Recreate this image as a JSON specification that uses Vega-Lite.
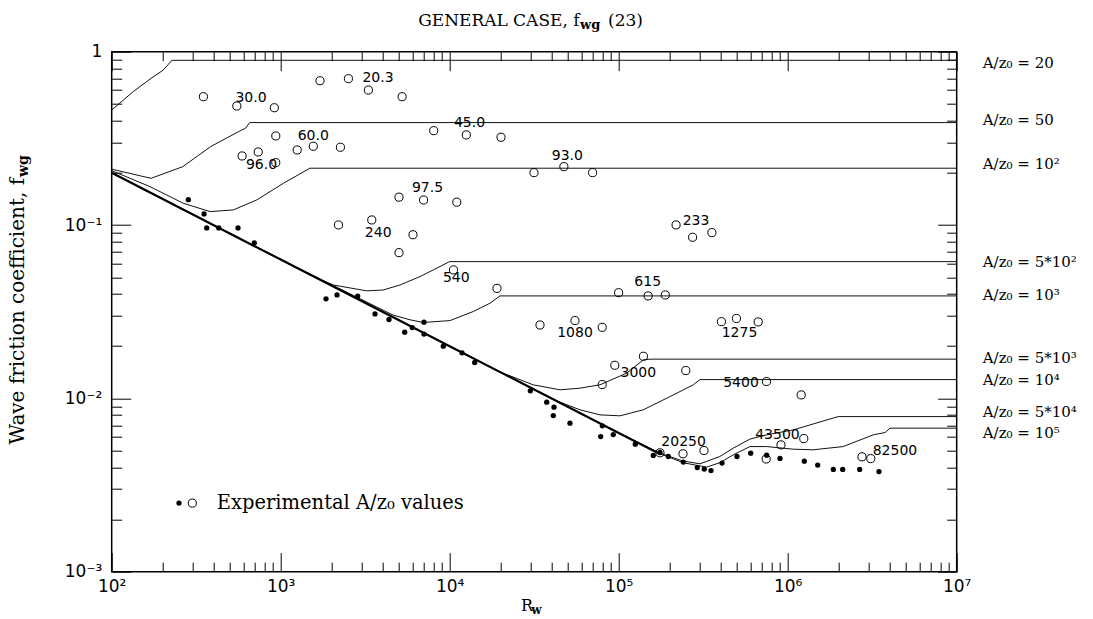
{
  "$schema": "https://vega.github.io/schema/vega-lite/v6.json",
  "width": 845,
  "height": 520,
  "autosize": {"type": "none"},
  "padding": {"left": 111.7, "top": 51.7, "right": 136, "bottom": 47},
  "background": "white",
  "config": {
    "view": {"stroke": "#000", "strokeWidth": 1.5},
    "axis": {"grid": false, "domain": false, "title": null, "tickColor": "#000", "labelColor": "#000", "labelFlush": false, "labelOverlap": false, "labelBound": false}
  },
  "resolve": {"axis": {"x": "independent", "y": "independent"}},
  "datasets": {
    "curves": [
      {"c": "20", "R": 100, "f": 0.461}, {"c": "20", "R": 134, "f": 0.588}, {"c": "20", "R": 171, "f": 0.702}, {"c": "20", "R": 202, "f": 0.784}, {"c": "20", "R": 227, "f": 0.892}, {"c": "20", "R": 10000000, "f": 0.892},
      {"c": "50", "R": 100, "f": 0.21}, {"c": "50", "R": 171, "f": 0.186}, {"c": "50", "R": 263, "f": 0.217}, {"c": "50", "R": 384, "f": 0.283}, {"c": "50", "R": 564, "f": 0.346}, {"c": "50", "R": 619, "f": 0.362}, {"c": "50", "R": 656, "f": 0.39}, {"c": "50", "R": 10000000, "f": 0.39},
      {"c": "100", "R": 100, "f": 0.206}, {"c": "100", "R": 168.5, "f": 0.1665}, {"c": "100", "R": 265, "f": 0.1336}, {"c": "100", "R": 382, "f": 0.1195}, {"c": "100", "R": 524, "f": 0.1222}, {"c": "100", "R": 721, "f": 0.1395}, {"c": "100", "R": 1036, "f": 0.174}, {"c": "100", "R": 1489, "f": 0.2127}, {"c": "100", "R": 10000000, "f": 0.2127},
      {"c": "500", "R": 100, "f": 0.2}, {"c": "500", "R": 1000, "f": 0.0632}, {"c": "500", "R": 1633, "f": 0.0493}, {"c": "500", "R": 2048, "f": 0.0451}, {"c": "500", "R": 3228, "f": 0.0417}, {"c": "500", "R": 4047, "f": 0.0422}, {"c": "500", "R": 5079, "f": 0.0451}, {"c": "500", "R": 6673, "f": 0.0504}, {"c": "500", "R": 7998, "f": 0.0551}, {"c": "500", "R": 9811, "f": 0.061}, {"c": "500", "R": 10040, "f": 0.0615}, {"c": "500", "R": 10000000, "f": 0.0615},
      {"c": "1000", "R": 100, "f": 0.2}, {"c": "1000", "R": 1000, "f": 0.0632}, {"c": "1000", "R": 4638, "f": 0.0302}, {"c": "1000", "R": 5823, "f": 0.0284}, {"c": "1000", "R": 6980, "f": 0.0274}, {"c": "1000", "R": 10040, "f": 0.0281}, {"c": "1000", "R": 13790, "f": 0.0317}, {"c": "1000", "R": 17320, "f": 0.0354}, {"c": "1000", "R": 19840, "f": 0.039}, {"c": "1000", "R": 10000000, "f": 0.039},
      {"c": "5000", "R": 100, "f": 0.2}, {"c": "5000", "R": 10000, "f": 0.02}, {"c": "5000", "R": 19840, "f": 0.0142}, {"c": "5000", "R": 31230, "f": 0.01197}, {"c": "5000", "R": 44950, "f": 0.0112}, {"c": "5000", "R": 59030, "f": 0.01145}, {"c": "5000", "R": 77520, "f": 0.01197}, {"c": "5000", "R": 111500, "f": 0.01398}, {"c": "5000", "R": 139800, "f": 0.01667}, {"c": "5000", "R": 153200, "f": 0.01683}, {"c": "5000", "R": 10000000, "f": 0.01683},
      {"c": "10000", "R": 100, "f": 0.2}, {"c": "10000", "R": 10000, "f": 0.02}, {"c": "10000", "R": 34220, "f": 0.0108}, {"c": "10000", "R": 44950, "f": 0.0095}, {"c": "10000", "R": 59030, "f": 0.00859}, {"c": "10000", "R": 77520, "f": 0.00803}, {"c": "10000", "R": 101800, "f": 0.00793}, {"c": "10000", "R": 139800, "f": 0.00859}, {"c": "10000", "R": 201200, "f": 0.01024}, {"c": "10000", "R": 276300, "f": 0.01197}, {"c": "10000", "R": 302700, "f": 0.01283}, {"c": "10000", "R": 10000000, "f": 0.01283},
      {"c": "50000", "R": 100, "f": 0.2}, {"c": "50000", "R": 100000, "f": 0.00632}, {"c": "50000", "R": 175500, "f": 0.00483}, {"c": "50000", "R": 240000, "f": 0.00435}, {"c": "50000", "R": 302700, "f": 0.00419}, {"c": "50000", "R": 397000, "f": 0.00462}, {"c": "50000", "R": 476000, "f": 0.00516}, {"c": "50000", "R": 598000, "f": 0.00582}, {"c": "50000", "R": 751000, "f": 0.00616}, {"c": "50000", "R": 1080000, "f": 0.00658}, {"c": "50000", "R": 1990000, "f": 0.00785}, {"c": "50000", "R": 10000000, "f": 0.00785},
      {"c": "100000", "R": 100, "f": 0.2}, {"c": "100000", "R": 100000, "f": 0.00632}, {"c": "100000", "R": 175500, "f": 0.0048}, {"c": "100000", "R": 241000, "f": 0.00425}, {"c": "100000", "R": 331700, "f": 0.00401}, {"c": "100000", "R": 398000, "f": 0.00426}, {"c": "100000", "R": 476000, "f": 0.00472}, {"c": "100000", "R": 598000, "f": 0.00527}, {"c": "100000", "R": 751000, "f": 0.00527}, {"c": "100000", "R": 1080000, "f": 0.00509}, {"c": "100000", "R": 1416000, "f": 0.00505}, {"c": "100000", "R": 2130000, "f": 0.00527}, {"c": "100000", "R": 3210000, "f": 0.00616}, {"c": "100000", "R": 3770000, "f": 0.00635}, {"c": "100000", "R": 4030000, "f": 0.00673}, {"c": "100000", "R": 10000000, "f": 0.00673}
    ],
    "thick": [
      {"R": 100, "f": 0.2}, {"R": 1000, "f": 0.0632}, {"R": 10000, "f": 0.02}, {"R": 100000, "f": 0.00632}, {"R": 175500, "f": 0.00478}
    ],
    "dots": [
      {"R": 284, "f": 0.14}, {"R": 352, "f": 0.1159}, {"R": 365, "f": 0.0962}, {"R": 430, "f": 0.0962}, {"R": 559, "f": 0.0962}, {"R": 698, "f": 0.0788},
      {"R": 1854, "f": 0.0375}, {"R": 2154, "f": 0.0395}, {"R": 2855, "f": 0.0389}, {"R": 3614, "f": 0.0307}, {"R": 4374, "f": 0.0285}, {"R": 5416, "f": 0.0241}, {"R": 6006, "f": 0.0256}, {"R": 7046, "f": 0.0275}, {"R": 7046, "f": 0.0235}, {"R": 9165, "f": 0.02}, {"R": 11825, "f": 0.0183}, {"R": 14058, "f": 0.0161},
      {"R": 29997, "f": 0.01105}, {"R": 37500, "f": 0.00951}, {"R": 41420, "f": 0.0089}, {"R": 41030, "f": 0.00796}, {"R": 51500, "f": 0.00719}, {"R": 80000, "f": 0.00694}, {"R": 78250, "f": 0.00602}, {"R": 92900, "f": 0.00618},
      {"R": 125400, "f": 0.00544}, {"R": 160200, "f": 0.00468}, {"R": 175500, "f": 0.00487}, {"R": 196600, "f": 0.00462}, {"R": 241200, "f": 0.00429}, {"R": 291900, "f": 0.00399}, {"R": 321000, "f": 0.00391}, {"R": 351800, "f": 0.00383}, {"R": 408700, "f": 0.00423}, {"R": 501200, "f": 0.00462}, {"R": 604000, "f": 0.00483}, {"R": 751000, "f": 0.0047}, {"R": 900300, "f": 0.0045},
      {"R": 1254000, "f": 0.00434}, {"R": 1505000, "f": 0.00412}, {"R": 1862000, "f": 0.00389}, {"R": 2116000, "f": 0.00389}, {"R": 2667000, "f": 0.00389}, {"R": 3469000, "f": 0.00378}
    ],
    "circles": [
      {"R": 349, "f": 0.55}, {"R": 550, "f": 0.486}, {"R": 917, "f": 0.475}, {"R": 1708, "f": 0.68}, {"R": 2516, "f": 0.699}, {"R": 3303, "f": 0.601}, {"R": 5227, "f": 0.55},
      {"R": 935, "f": 0.3265}, {"R": 591, "f": 0.2503}, {"R": 736, "f": 0.264}, {"R": 935, "f": 0.229}, {"R": 1252, "f": 0.271}, {"R": 1559, "f": 0.2848}, {"R": 2256, "f": 0.281},
      {"R": 8042, "f": 0.3503}, {"R": 12540, "f": 0.331}, {"R": 20120, "f": 0.3209},
      {"R": 31530, "f": 0.2006}, {"R": 47390, "f": 0.2172}, {"R": 70080, "f": 0.2006},
      {"R": 5012, "f": 0.1448}, {"R": 7009, "f": 0.1395}, {"R": 11020, "f": 0.1354},
      {"R": 2198, "f": 0.1001}, {"R": 3459, "f": 0.107}, {"R": 6063, "f": 0.0879}, {"R": 5012, "f": 0.0693},
      {"R": 10530, "f": 0.0551}, {"R": 19050, "f": 0.0431},
      {"R": 218600, "f": 0.1001}, {"R": 273700, "f": 0.085}, {"R": 356100, "f": 0.0904},
      {"R": 99860, "f": 0.0407}, {"R": 149300, "f": 0.039}, {"R": 188700, "f": 0.0395},
      {"R": 34220, "f": 0.0265}, {"R": 55130, "f": 0.0281}, {"R": 79880, "f": 0.0257},
      {"R": 405400, "f": 0.0277}, {"R": 497800, "f": 0.0289}, {"R": 669000, "f": 0.0276},
      {"R": 140100, "f": 0.01749}, {"R": 94820, "f": 0.01552}, {"R": 79880, "f": 0.01201}, {"R": 249500, "f": 0.01447},
      {"R": 749100, "f": 0.0125}, {"R": 1202000, "f": 0.01047},
      {"R": 175500, "f": 0.00485}, {"R": 240200, "f": 0.00479}, {"R": 319700, "f": 0.005},
      {"R": 912800, "f": 0.00539}, {"R": 1245000, "f": 0.00586}, {"R": 746100, "f": 0.00447},
      {"R": 2752000, "f": 0.0046}, {"R": 3102000, "f": 0.00449}
    ],
    "numlabels": [
      {"t": "30.0", "R": 667, "f": 0.543}, {"t": "20.3", "R": 3765, "f": 0.708}, {"t": "60.0", "R": 1559, "f": 0.3265}, {"t": "96.0", "R": 770, "f": 0.223},
      {"t": "45.0", "R": 13100, "f": 0.3865}, {"t": "93.0", "R": 49710, "f": 0.2513}, {"t": "97.5", "R": 7390, "f": 0.163}, {"t": "240", "R": 3775, "f": 0.0897},
      {"t": "540", "R": 10940, "f": 0.0493}, {"t": "233", "R": 286700, "f": 0.106}, {"t": "615", "R": 148500, "f": 0.0468}, {"t": "1080", "R": 55130, "f": 0.0237},
      {"t": "1275", "R": 518500, "f": 0.0237}, {"t": "3000", "R": 130600, "f": 0.01398}, {"t": "5400", "R": 529200, "f": 0.01229}, {"t": "20250", "R": 242100, "f": 0.00563},
      {"t": "43500", "R": 869900, "f": 0.00616}, {"t": "82500", "R": 4313000, "f": 0.00496}
    ],
    "rightlabels": [
      {"t": "A/z₀  =  20", "R": 14270000, "f": 0.861},
      {"t": "A/z₀  =  50", "R": 14270000, "f": 0.4037},
      {"t": "A/z₀  =  10²", "R": 14270000, "f": 0.2236},
      {"t": "A/z₀  =  5*10²", "R": 14270000, "f": 0.0615},
      {"t": "A/z₀  =  10³", "R": 14270000, "f": 0.0393},
      {"t": "A/z₀  =  5*10³", "R": 14270000, "f": 0.0172},
      {"t": "A/z₀  =  10⁴", "R": 14270000, "f": 0.01268},
      {"t": "A/z₀  =  5*10⁴", "R": 14270000, "f": 0.00836},
      {"t": "A/z₀  =  10⁵", "R": 14270000, "f": 0.00632}
    ],
    "legdot": [{"R": 250.2, "f": 0.002487}],
    "legcircle": [{"R": 300, "f": 0.002487}],
    "legtext": [{"t": "Experimental A/z₀ values", "R": 418.8, "f": 0.002487}],
    "titlemain": [{"t": "GENERAL CASE, f", "R": 58630, "f": 1.406}],
    "titlesub": [{"t": "wg", "R": 59060, "f": 1.352}],
    "titleend": [{"t": "(23)", "R": 86460, "f": 1.406}],
    "ytitle": [{"t": "Wave friction coefficient, f", "R": 30.28, "f": 0.1869}],
    "ytitlesub": [{"t": "wg", "R": 31.76, "f": 0.1894}],
    "xtitle": [{"t": "R", "R": 28670, "f": 0.000595}],
    "xtitlesub": [{"t": "w", "R": 30340, "f": 0.0005716}]
  },
  "layer": [
    {
      "data": {"name": "curves"},
      "mark": {"type": "line", "color": "#111", "strokeWidth": 1},
      "encoding": {
        "x": {"field": "R", "type": "quantitative", "scale": {"type": "log", "domain": [100, 10000000], "nice": false},
          "axis": {"orient": "bottom", "values": [100, 1000, 10000, 100000, 1000000, 10000000], "ticks": false, "labelPadding": 7, "labelFont": "DejaVu Sans", "labelFontSize": 17, "labelExpr": "'10' + ['⁰','¹','²','³','⁴','⁵','⁶','⁷'][round(log(datum.value)/LN10)]"}},
        "y": {"field": "f", "type": "quantitative", "scale": {"type": "log", "domain": [0.001, 1], "nice": false},
          "axis": {"orient": "left", "values": [0.001, 0.01, 0.1, 1], "ticks": false, "labelPadding": 10, "labelFont": "DejaVu Sans", "labelFontSize": 17, "labelExpr": "datum.value >= 1 ? '1' : '10⁻' + ['⁰','¹','²','³'][round(-log(datum.value)/LN10)]"}},
        "detail": {"field": "c"}
      }
    },
    {
      "data": {"name": "thick"},
      "mark": {"type": "line", "color": "#000", "strokeWidth": 2.2},
      "encoding": {
        "x": {"field": "R", "type": "quantitative", "scale": {"type": "log", "domain": [100, 10000000], "nice": false},
          "axis": {"orient": "bottom", "values": [100, 1000, 10000, 100000, 1000000, 10000000], "labels": false, "tickSize": -19, "tickWidth": 1}},
        "y": {"field": "f", "type": "quantitative", "scale": {"type": "log", "domain": [0.001, 1], "nice": false},
          "axis": {"orient": "left", "values": [0.001, 0.01, 0.1, 1], "labels": false, "tickSize": -19, "tickWidth": 1}}
      }
    },
    {
      "data": {"name": "dots"},
      "mark": {"type": "point", "shape": "circle", "filled": true, "color": "#000", "size": 28, "opacity": 1},
      "encoding": {
        "x": {"field": "R", "type": "quantitative", "scale": {"type": "log", "domain": [100, 10000000], "nice": false},
          "axis": {"orient": "bottom", "values": [200,300,400,500,600,700,800,900,2000,3000,4000,5000,6000,7000,8000,9000,20000,30000,40000,50000,60000,70000,80000,90000,200000,300000,400000,500000,600000,700000,800000,900000,2000000,3000000,4000000,5000000,6000000,7000000,8000000,9000000], "labels": false, "tickSize": -9.5, "tickWidth": 1}},
        "y": {"field": "f", "type": "quantitative", "scale": {"type": "log", "domain": [0.001, 1], "nice": false},
          "axis": {"orient": "left", "values": [0.002,0.003,0.004,0.005,0.006,0.007,0.008,0.009,0.02,0.03,0.04,0.05,0.06,0.07,0.08,0.09,0.2,0.3,0.4,0.5,0.6,0.7,0.8,0.9], "labels": false, "tickSize": -10, "tickWidth": 1}}
      }
    },
    {
      "data": {"name": "circles"},
      "mark": {"type": "point", "shape": "circle", "filled": false, "color": "#000", "size": 66, "strokeWidth": 1, "opacity": 1},
      "encoding": {
        "x": {"field": "R", "type": "quantitative", "scale": {"type": "log", "domain": [100, 10000000], "nice": false},
          "axis": {"orient": "top", "values": [100, 1000, 10000, 100000, 1000000, 10000000], "labels": false, "tickSize": -19, "tickWidth": 1}},
        "y": {"field": "f", "type": "quantitative", "scale": {"type": "log", "domain": [0.001, 1], "nice": false},
          "axis": {"orient": "right", "values": [0.001, 0.01, 0.1, 1], "labels": false, "tickSize": -19, "tickWidth": 1}}
      }
    },
    {
      "data": {"name": "numlabels"},
      "mark": {"type": "text", "font": "DejaVu Sans", "fontSize": 14, "align": "center", "baseline": "middle", "color": "#000"},
      "encoding": {
        "x": {"field": "R", "type": "quantitative", "scale": {"type": "log", "domain": [100, 10000000], "nice": false},
          "axis": {"orient": "top", "values": [200,300,400,500,600,700,800,900,2000,3000,4000,5000,6000,7000,8000,9000,20000,30000,40000,50000,60000,70000,80000,90000,200000,300000,400000,500000,600000,700000,800000,900000,2000000,3000000,4000000,5000000,6000000,7000000,8000000,9000000], "labels": false, "tickSize": -9, "tickWidth": 1}},
        "y": {"field": "f", "type": "quantitative", "scale": {"type": "log", "domain": [0.001, 1], "nice": false},
          "axis": {"orient": "right", "values": [0.002,0.003,0.004,0.005,0.006,0.007,0.008,0.009,0.02,0.03,0.04,0.05,0.06,0.07,0.08,0.09,0.2,0.3,0.4,0.5,0.6,0.7,0.8,0.9], "labels": false, "tickSize": -10, "tickWidth": 1}},
        "text": {"field": "t"}
      }
    },
    {
      "data": {"name": "rightlabels"},
      "mark": {"type": "text", "font": "DejaVu Serif", "fontSize": 15, "align": "left", "baseline": "middle", "color": "#000"},
      "encoding": {
        "x": {"field": "R", "type": "quantitative", "scale": {"type": "log", "domain": [100, 10000000], "nice": false}, "axis": null},
        "y": {"field": "f", "type": "quantitative", "scale": {"type": "log", "domain": [0.001, 1], "nice": false}, "axis": null},
        "text": {"field": "t"}
      }
    },
    {
      "data": {"name": "legdot"},
      "mark": {"type": "point", "shape": "circle", "filled": true, "color": "#000", "size": 28, "opacity": 1},
      "encoding": {
        "x": {"field": "R", "type": "quantitative", "scale": {"type": "log", "domain": [100, 10000000], "nice": false}, "axis": null},
        "y": {"field": "f", "type": "quantitative", "scale": {"type": "log", "domain": [0.001, 1], "nice": false}, "axis": null}
      }
    },
    {
      "data": {"name": "legcircle"},
      "mark": {"type": "point", "shape": "circle", "filled": false, "color": "#000", "size": 66, "strokeWidth": 1, "opacity": 1},
      "encoding": {
        "x": {"field": "R", "type": "quantitative", "scale": {"type": "log", "domain": [100, 10000000], "nice": false}, "axis": null},
        "y": {"field": "f", "type": "quantitative", "scale": {"type": "log", "domain": [0.001, 1], "nice": false}, "axis": null}
      }
    },
    {
      "data": {"name": "legtext"},
      "mark": {"type": "text", "font": "DejaVu Serif", "fontSize": 19.5, "align": "left", "baseline": "middle", "color": "#000"},
      "encoding": {
        "x": {"field": "R", "type": "quantitative", "scale": {"type": "log", "domain": [100, 10000000], "nice": false}, "axis": null},
        "y": {"field": "f", "type": "quantitative", "scale": {"type": "log", "domain": [0.001, 1], "nice": false}, "axis": null},
        "text": {"field": "t"}
      }
    },
    {
      "data": {"name": "titlemain"},
      "mark": {"type": "text", "font": "DejaVu Serif", "fontSize": 17, "align": "right", "baseline": "alphabetic", "color": "#000"},
      "encoding": {
        "x": {"field": "R", "type": "quantitative", "scale": {"type": "log", "domain": [100, 10000000], "nice": false}, "axis": null},
        "y": {"field": "f", "type": "quantitative", "scale": {"type": "log", "domain": [0.001, 1], "nice": false}, "axis": null},
        "text": {"field": "t"}
      }
    },
    {
      "data": {"name": "titlesub"},
      "mark": {"type": "text", "font": "DejaVu Serif", "fontSize": 13, "fontWeight": "bold", "align": "left", "baseline": "alphabetic", "color": "#000"},
      "encoding": {
        "x": {"field": "R", "type": "quantitative", "scale": {"type": "log", "domain": [100, 10000000], "nice": false}, "axis": null},
        "y": {"field": "f", "type": "quantitative", "scale": {"type": "log", "domain": [0.001, 1], "nice": false}, "axis": null},
        "text": {"field": "t"}
      }
    },
    {
      "data": {"name": "titleend"},
      "mark": {"type": "text", "font": "DejaVu Serif", "fontSize": 17, "align": "left", "baseline": "alphabetic", "color": "#000"},
      "encoding": {
        "x": {"field": "R", "type": "quantitative", "scale": {"type": "log", "domain": [100, 10000000], "nice": false}, "axis": null},
        "y": {"field": "f", "type": "quantitative", "scale": {"type": "log", "domain": [0.001, 1], "nice": false}, "axis": null},
        "text": {"field": "t"}
      }
    },
    {
      "data": {"name": "ytitle"},
      "mark": {"type": "text", "font": "DejaVu Serif", "fontSize": 20, "align": "right", "baseline": "alphabetic", "angle": 270, "color": "#000"},
      "encoding": {
        "x": {"field": "R", "type": "quantitative", "scale": {"type": "log", "domain": [100, 10000000], "nice": false}, "axis": null},
        "y": {"field": "f", "type": "quantitative", "scale": {"type": "log", "domain": [0.001, 1], "nice": false}, "axis": null},
        "text": {"field": "t"}
      }
    },
    {
      "data": {"name": "ytitlesub"},
      "mark": {"type": "text", "font": "DejaVu Serif", "fontSize": 14, "fontWeight": "bold", "align": "left", "baseline": "alphabetic", "angle": 270, "color": "#000"},
      "encoding": {
        "x": {"field": "R", "type": "quantitative", "scale": {"type": "log", "domain": [100, 10000000], "nice": false}, "axis": null},
        "y": {"field": "f", "type": "quantitative", "scale": {"type": "log", "domain": [0.001, 1], "nice": false}, "axis": null},
        "text": {"field": "t"}
      }
    },
    {
      "data": {"name": "xtitle"},
      "mark": {"type": "text", "font": "DejaVu Serif", "fontSize": 16, "align": "center", "baseline": "alphabetic", "color": "#000"},
      "encoding": {
        "x": {"field": "R", "type": "quantitative", "scale": {"type": "log", "domain": [100, 10000000], "nice": false}, "axis": null},
        "y": {"field": "f", "type": "quantitative", "scale": {"type": "log", "domain": [0.001, 1], "nice": false}, "axis": null},
        "text": {"field": "t"}
      }
    },
    {
      "data": {"name": "xtitlesub"},
      "mark": {"type": "text", "font": "DejaVu Serif", "fontSize": 12, "fontWeight": "bold", "align": "left", "baseline": "alphabetic", "color": "#000"},
      "encoding": {
        "x": {"field": "R", "type": "quantitative", "scale": {"type": "log", "domain": [100, 10000000], "nice": false}, "axis": null},
        "y": {"field": "f", "type": "quantitative", "scale": {"type": "log", "domain": [0.001, 1], "nice": false}, "axis": null},
        "text": {"field": "t"}
      }
    }
  ]
}
